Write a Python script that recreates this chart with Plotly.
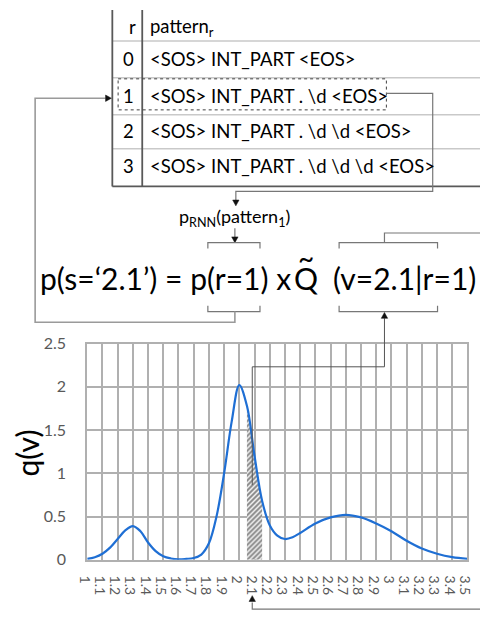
import plotly.graph_objects as go

# ---------------- data ----------------
v_vals = [1.0, 1.05, 1.1, 1.15, 1.2, 1.25, 1.3, 1.35, 1.4, 1.45, 1.5, 1.55, 1.6, 1.65,
          1.7, 1.75, 1.8, 1.85, 1.9, 1.95, 2.0, 2.05, 2.1, 2.15, 2.2, 2.25, 2.3, 2.35,
          2.4, 2.5, 2.6, 2.7, 2.8, 2.9, 3.0, 3.1, 3.2, 3.3, 3.4, 3.5]
q_vals = [0.01, 0.03, 0.07, 0.14, 0.24, 0.34, 0.39, 0.33, 0.20, 0.10, 0.04, 0.015, 0.005, 0.01,
          0.02, 0.06, 0.19, 0.50, 1.00, 1.60, 2.02, 1.78, 1.20, 0.68, 0.40, 0.28, 0.24, 0.26,
          0.31, 0.42, 0.49, 0.52, 0.49, 0.42, 0.33, 0.22, 0.13, 0.07, 0.03, 0.01]
hatch_v = [2.05, 2.1, 2.15]
hatch_q = [1.78, 1.20, 0.68]

x_tick_vals = [1.0, 1.1, 1.2, 1.3, 1.4, 1.5, 1.6, 1.7, 1.8, 1.9, 2.0, 2.1, 2.2, 2.3, 2.4,
               2.5, 2.6, 2.7, 2.8, 2.9, 3.0, 3.1, 3.2, 3.3, 3.4, 3.5]
x_tick_text = ["1", "1.1", "1.2", "1.3", "1.4", "1.5", "1.6", "1.7", "1.8", "1.9", "2", "2.1",
               "2.2", "2.3", "2.4", "2.5", "2.6", "2.7", "2.8", "2.9", "3", "3.1", "3.2",
               "3.3", "3.4", "3.5"]
y_tick_vals = [0, 0.5, 1, 1.5, 2, 2.5]
y_tick_text = ["0", "0.5", "1", "1.5", "2", "2.5"]

table_r = ["0", "1", "2", "3"]
table_patterns = ["<SOS> INT_PART <EOS>",
                  "<SOS> INT_PART . \\d <EOS>",
                  "<SOS> INT_PART . \\d \\d <EOS>",
                  "<SOS> INT_PART . \\d \\d \\d <EOS>"]

W, H = 486, 625
FONT = "Lato"
GRID = "#b0b0b0"
CONN = "#777777"

fig = go.Figure()

fig.add_trace(go.Scatter(x=hatch_v, y=hatch_q, mode="lines", line=dict(width=0, shape="spline"),
                         fill="tozeroy", fillcolor="rgba(0,0,0,0)",
                         fillpattern=dict(shape="/", fgcolor="#111111", bgcolor="white",
                                          size=3.5, solidity=0.6),
                         hoverinfo="skip", showlegend=False))
fig.add_trace(go.Scatter(x=v_vals, y=q_vals, mode="lines",
                         line=dict(color="#1f6fd4", width=2.2, shape="spline", smoothing=1.0),
                         showlegend=False))
# invisible trace for the pixel overlay axes
fig.add_trace(go.Scatter(x=[0], y=[0], xaxis="x2", yaxis="y2", mode="markers",
                         marker=dict(opacity=0), hoverinfo="skip", showlegend=False))

x0p, x1p = 79, 473
y0p, y1p = 567, 344

fig.update_layout(
    width=W, height=H,
    margin=dict(l=0, r=0, t=0, b=0, pad=0),
    paper_bgcolor="white", plot_bgcolor="rgba(0,0,0,0)",
    showlegend=False,
    xaxis=dict(domain=[x0p / W, x1p / W], range=[1.0, 3.5], tickvals=x_tick_vals,
               ticktext=x_tick_text, tickangle=90, showgrid=True, gridcolor=GRID, gridwidth=2,
               zeroline=False, showline=True, linecolor=GRID, linewidth=2, mirror=True,
               ticks="", tickfont=dict(family=FONT, size=14, color="#595959"),
               ticklabelstandoff=11, ticklabelshift=-3),
    yaxis=dict(domain=[(H - y0p) / H, (H - y1p) / H], range=[0, 2.5], tickvals=y_tick_vals,
               ticktext=y_tick_text, showgrid=True, gridcolor=GRID, gridwidth=2,
               zeroline=False, showline=True, linecolor=GRID, linewidth=2, mirror=True,
               ticks="", tickfont=dict(family=FONT, size=16, color="#595959"),
               ticklabelstandoff=16),
    xaxis2=dict(domain=[0, 1], range=[0, W], anchor="y2", visible=False, fixedrange=True),
    yaxis2=dict(domain=[0, 1], range=[H, 0], anchor="x2", visible=False, fixedrange=True),
)

shapes = []
annos = []


def line(xa, ya, xb, yb, color=CONN, width=1.2, dash="solid"):
    shapes.append(dict(type="line", xref="x2", yref="y2", x0=xa, y0=ya, x1=xb, y1=yb,
                       line=dict(color=color, width=width, dash=dash)))


def poly(points, color=CONN, width=1.2):
    path = "M " + " L ".join(f"{px},{py}" for px, py in points)
    shapes.append(dict(type="path", xref="x2", yref="y2", path=path,
                       line=dict(color=color, width=width)))


def arrowhead(px, py, direction, size=6, color="#111111"):
    s = size
    h = s * 0.55
    if direction == "down":
        pts = [(px, py), (px - h, py - s), (px + h, py - s)]
    elif direction == "up":
        pts = [(px, py), (px - h, py + s), (px + h, py + s)]
    elif direction == "right":
        pts = [(px, py), (px - s, py - h), (px - s, py + h)]
    else:
        pts = [(px, py), (px + s, py - h), (px + s, py + h)]
    path = "M " + " L ".join(f"{a},{b}" for a, b in pts) + " Z"
    shapes.append(dict(type="path", xref="x2", yref="y2", path=path,
                       fillcolor=color, line=dict(color=color, width=0.5)))


def text(px, py, s, size, color="black", xanchor="center", angle=0):
    annos.append(dict(xref="x2", yref="y2", x=px, y=py, text=s, showarrow=False,
                      xanchor=xanchor, yanchor="middle", textangle=angle,
                      font=dict(family=FONT, size=size, color=color)))


# ---------------- table ----------------
row_lines = [32, 70, 108, 143]
for ry in row_lines:
    line(105, ry, W, ry, color="#c9c9c9", width=1.5)
line(105, 0, 105, 182, color="#595959", width=1.8)
line(136, 0, 136, 182, color="#595959", width=1.8)
line(105, 182, W, 182, color="#595959", width=1.8)

text(126, 18, "r", 18.5)
text(142, 18, "pattern<sub>r</sub>", 18.5, xanchor="left")
row_y = [51, 89, 125, 161]
for r, pat, ry in zip(table_r, table_patterns, row_y):
    text(122, ry, r, 18.5)
    text(142, ry, pat.replace("<", "&lt;").replace(">", "&gt;"), 18.5, xanchor="left")

# dashed box around row 1
shapes.append(dict(type="rect", xref="x2", yref="y2", x0=111, y0=71, x1=389, y1=103,
                   line=dict(color="#404040", width=1, dash="dot")))

# connector from row 1 to p_RNN
poly([(389, 86), (437, 86), (437, 187), (233, 187), (233, 196)])
arrowhead(233, 202, "down")
text(232, 214, "p<sub>RNN</sub>(pattern<sub>1</sub>)", 18)
line(232, 225, 232, 234)
arrowhead(232, 240, "down")

# ---------------- formula ----------------
FY = 276
text(28, FY, "p(s=\u20182.1\u2019) = p(r=1) x", 30, xanchor="left")
text(306, FY, "Q", 30)
text(306, FY - 20, "~", 28)
text(332, FY, "(v=2.1|r=1)", 30, xanchor="left")

# brackets around (r=1)
poly([(204, 246), (204, 240), (258, 240), (258, 246)])
poly([(204, 305), (204, 311), (258, 311), (258, 305)])
# brackets around (v=2.1|r=1)
poly([(340, 246), (340, 240), (442, 240), (442, 246)])
poly([(340, 305), (340, 311), (442, 311), (442, 305)])

# left loop back to table row 1
poly([(232, 311), (232, 322), (25, 322), (25, 91), (98, 91)], color="#9a9a9a", width=1.6)
arrowhead(104, 91, "right")

# right top connector going out of frame
poly([(387, 240), (387, 230), (W, 230)])

# connector from chart to Q bracket
poly([(250, 490), (250, 368), (387, 368), (387, 318)], color="#555555", width=1)
arrowhead(387, 312, "up")

# bottom connector to x label 2.1
poly([(W, 618), (250, 618), (250, 611)])
arrowhead(250, 604, "up")

# y-axis title
text(17, 457, "q(v)", 30, angle=-90)

fig.update_layout(shapes=shapes, annotations=annos)

fig.write_html("out.html", config={"displayModeBar": False},
               post_script="document.body.style.margin='0px';")
